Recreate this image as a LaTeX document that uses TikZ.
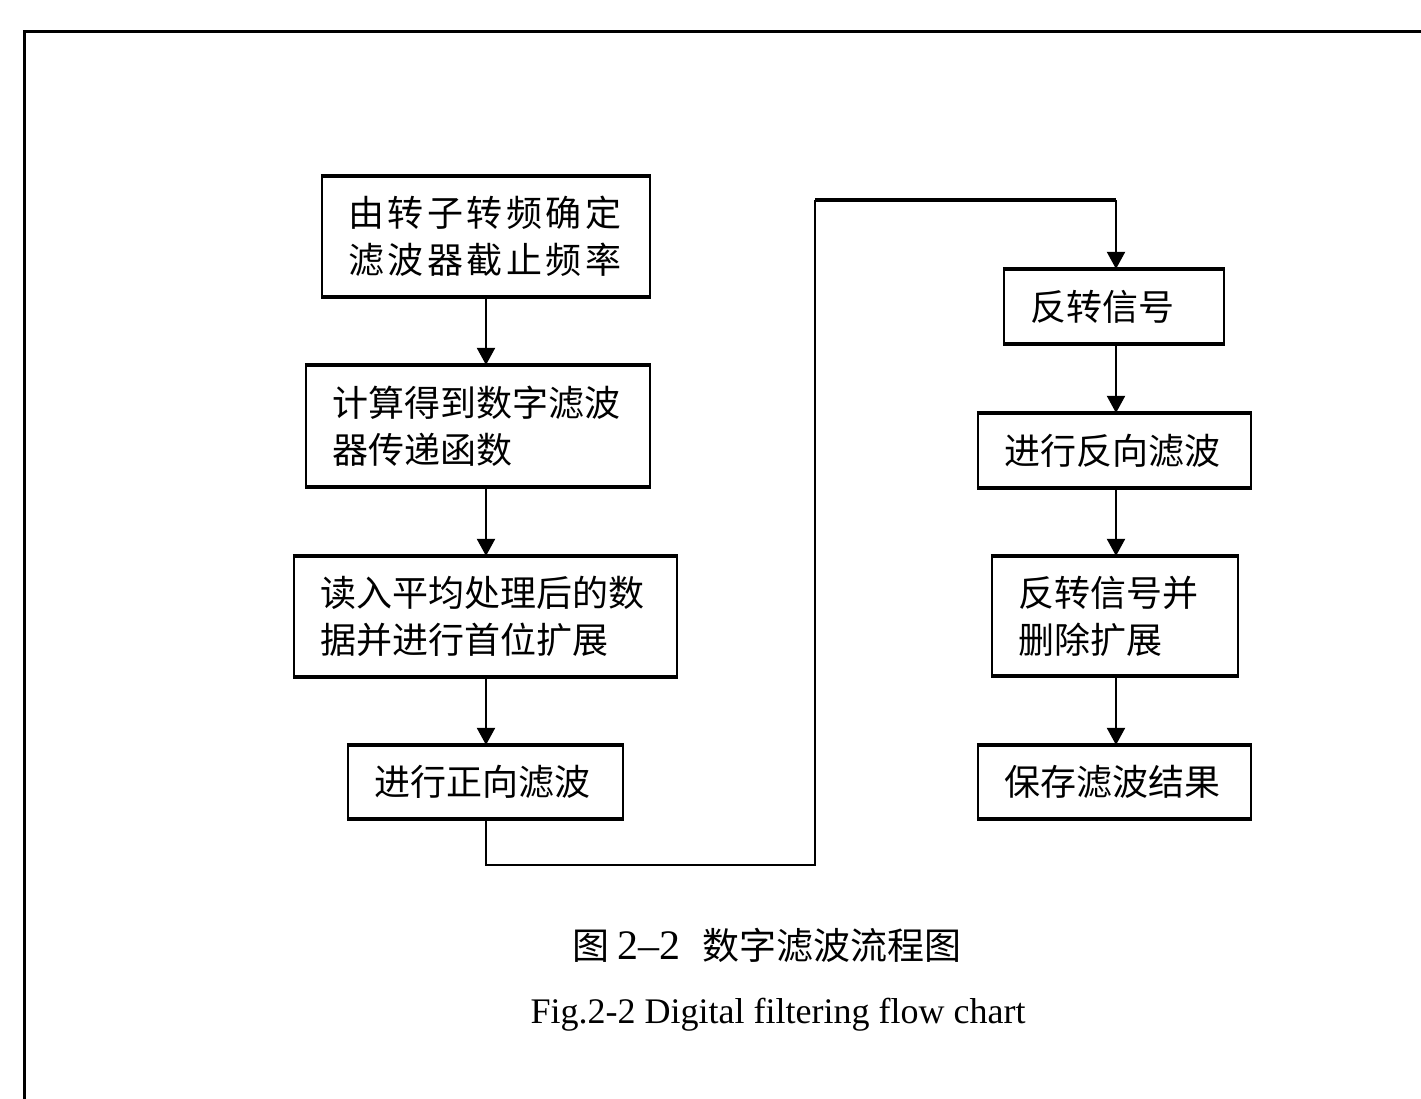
\documentclass[tikz,border=0pt]{standalone}
\usepackage{fontspec}
\setmainfont{Liberation Serif}
\newfontfamily\cjk{Noto Sans CJK SC}
\usetikzlibrary{arrows.meta}
\tikzset{
  box/.style={draw, line width=1.1pt, rectangle, inner xsep=13pt, inner ysep=0pt,
    align=left, font=\cjk\fontsize{18}{23.5}\selectfont},
  flow/.style={line width=1pt, -{Triangle[length=8.5pt,width=9pt]}},
  link/.style={line width=1pt},
  edge/.style={line width=1.6pt},
}
\begin{document}
\begin{tikzpicture}[x=0.5pt,y=-0.5pt]
\useasboundingbox (0,0) rectangle (1421,1099);
% frame
\draw[line width=1.5pt] (24,1099) -- (24,31) -- (1421,31);
% left column
\node[box, minimum width=164pt, minimum height=59.5pt, text width=138pt] (b1) at (486,236.5)
  {{\addfontfeature{LetterSpace=10}由转子转频确定}\\{\addfontfeature{LetterSpace=10}滤波器截止频率}};
\node[box, minimum width=172pt, minimum height=60pt, text width=146pt] (b2) at (478,426)
  {计算得到数字滤波\\器传递函数};
\node[box, minimum width=191.5pt, minimum height=59.5pt, text width=165.5pt] (b3) at (485.5,616.5)
  {读入平均处理后的数\\据并进行首位扩展};
\node[box, minimum width=137.5pt, minimum height=36pt, text width=111.5pt] (b4) at (485.5,782)
  {进行正向滤波};
% right column
\node[box, minimum width=110pt, minimum height=36.5pt, text width=84pt] (b5) at (1114,306.5)
  {反转信号};
\node[box, minimum width=136.5pt, minimum height=36.5pt, text width=110.5pt] (b6) at (1114.5,450.5)
  {进行反向滤波};
\node[box, minimum width=123pt, minimum height=59pt, text width=97pt] (b7) at (1115,616)
  {反转信号并\\删除扩展};
\node[box, minimum width=136.5pt, minimum height=36pt, text width=110.5pt] (b8) at (1114.5,782)
  {保存滤波结果};
% thicker top and bottom edges
\foreach \b in {b1,b2,b3,b4,b5,b6,b7,b8} {
  \draw[edge] (\b.north west) -- (\b.north east);
  \draw[edge] (\b.south west) -- (\b.south east);
}
% arrows
\draw[flow] (486,296) coordinate (a1) -- (a1 |- b2.north);
\draw[flow] (486,486) coordinate (a2) -- (a2 |- b3.north);
\draw[flow] (486,676) coordinate (a3) -- (a3 |- b4.north);
\coordinate (c1) at (486,865);
\coordinate (c2) at (815,865);
\coordinate (c3) at (815,200);
\coordinate (c4) at (1116,200);
\draw[link] (b4.south -| c1) -- (c1) -- (c2) -- (c3);
\draw[line width=2pt] (c3) -- (c4);
\draw[flow] (c4) -- (c4 |- b5.north);
\draw[flow] (1116,343) coordinate (a5) -- (a5 |- b6.north);
\draw[flow] (1116,487) coordinate (a6) -- (a6 |- b7.north);
\draw[flow] (1116,675) coordinate (a7) -- (a7 |- b8.north);
% caption
\node[font=\cjk\fontsize{18.5}{22}\selectfont] (cap1) at (767,945) {图 {\rmfamily\fontsize{21}{22}\selectfont 2--2}\hspace{0.6em}数字滤波流程图};
\node[font=\fontsize{18}{22}\selectfont] (cap2) at (778,1015) {Fig.2-2 Digital filtering flow chart};
\end{tikzpicture}
\end{document}
